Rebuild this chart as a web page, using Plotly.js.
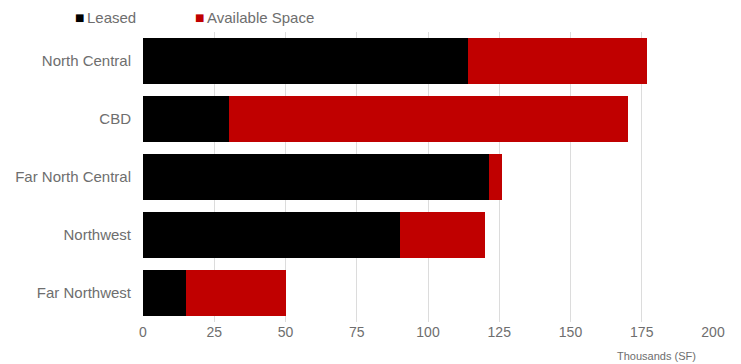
<!DOCTYPE html>
<html>
<head>
<meta charset="utf-8">
<script src="https://cdn.plot.ly/plotly-3.0.1.min.js"></script>
<style>html,body{margin:0;padding:0;background:#fff;}#chart{width:741px;height:364px;}</style>
</head>
<body>
<div id="chart"></div>
<script>
const categories = ["North Central", "CBD", "Far North Central", "Northwest", "Far Northwest"];
const leased = [114, 30, 121.5, 90, 15];
const available = [63, 140.3, 4.5, 30, 35];
const xTicks = [0, 25, 50, 75, 100, 125, 150, 175, 200];
const seriesNames = ["Leased", "Available Space"];
const seriesColors = ["#000000", "#c00000"];

const fam = "Liberation Sans, Arial, sans-serif";
const grey = "#6e6e6e";

const traces = [
  {type: "bar", orientation: "h", y: categories, x: leased, name: seriesNames[0],
   marker: {color: seriesColors[0], line: {width: 0}}, showlegend: false},
  {type: "bar", orientation: "h", y: categories, x: available, name: seriesNames[1],
   marker: {color: seriesColors[1], line: {width: 0}}, showlegend: false}
];

// plot area in pixels: x 143..713, y 32..322
const px2x = p => (p - 143) / 570;
const py2y = p => (322 - p) / 290;
const legendX = [74, 194];

const annotations = [];
seriesNames.forEach((n, i) => {
  annotations.push({text: "■", xref: "paper", yref: "paper", x: px2x(legendX[i] - 1), xanchor: "left",
    y: py2y(17), yanchor: "middle", showarrow: false,
    font: {family: "DejaVu Sans", size: 10, color: seriesColors[i]}});
  annotations.push({text: n, xref: "paper", yref: "paper", x: px2x(legendX[i] + 11), xanchor: "left",
    y: py2y(17), yanchor: "middle", showarrow: false,
    font: {family: fam, size: 15, color: grey}});
});
annotations.push({text: "Thousands (SF)", xref: "paper", yref: "paper", x: 1, xanchor: "right", xshift: -15,
  y: 0, yanchor: "top", yshift: -26, showarrow: false,
  font: {family: fam, size: 11, color: grey}});

const layout = {
  width: 741, height: 364,
  margin: {l: 143, r: 28, t: 32, b: 42, pad: 0},
  barmode: "stack",
  bargap: 0.2,
  paper_bgcolor: "#ffffff",
  plot_bgcolor: "#ffffff",
  font: {family: fam, size: 14, color: grey},
  showlegend: false,
  xaxis: {range: [0, 200], tickvals: xTicks, ticktext: xTicks.map(String), showgrid: true,
          gridcolor: "#dcdcdc", gridwidth: 1, zeroline: false, showline: false, ticks: "",
          tickfont: {family: fam, size: 14, color: grey}, fixedrange: true},
  yaxis: {categoryorder: "array", categoryarray: categories, autorange: "reversed", showgrid: false,
          zeroline: false, showline: false, ticks: "", ticklabelstandoff: 11,
          tickfont: {family: fam, size: 15, color: grey}, fixedrange: true},
  annotations: annotations
};

Plotly.newPlot("chart", traces, layout, {displayModeBar: false, staticPlot: true});
</script>
</body>
</html>
